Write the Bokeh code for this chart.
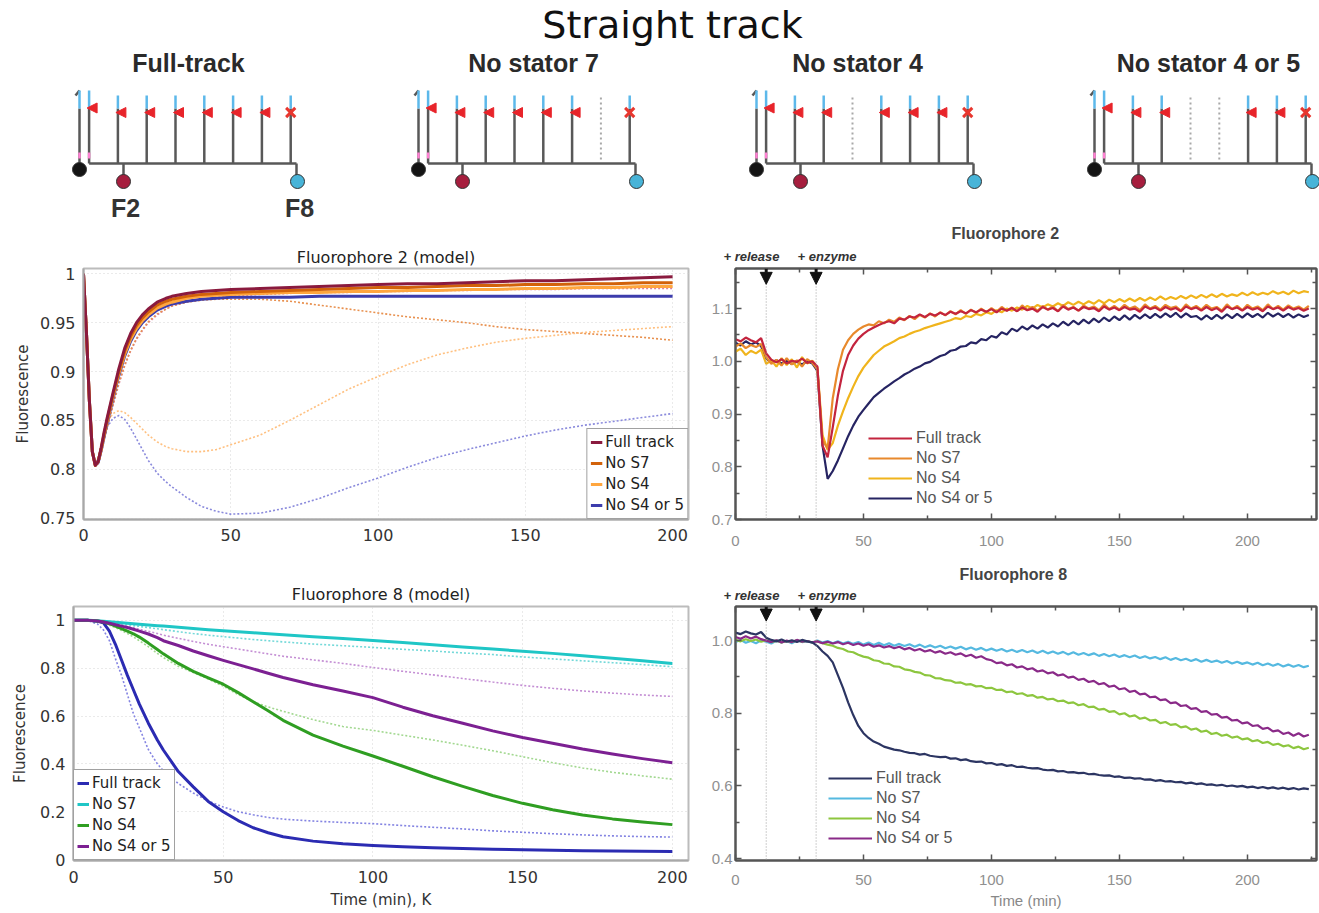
from bokeh.plotting import figure
from bokeh.layouts import column, row
from bokeh.models import (Range1d, FixedTicker, PrintfTickFormatter, Legend, LegendItem,
                          Span, Arrow, NormalHead, LinearAxis, Title, CustomJSTickFormatter)
from bokeh.core.properties import value
from bokeh.embed import file_html
from bokeh.resources import INLINE

# ------------------------------------------------------------------ data
LABELS = ["Full track", "No S7", "No S4", "No S4 or 5"]

# Fluorophore 2 (model)
M2_T = [0, 1, 2, 3, 4, 5, 6, 7, 8, 10, 12, 14, 16, 18, 20, 22, 25, 28, 30, 35, 40, 45, 50,
        60, 70, 80, 90, 100, 110, 120, 130, 140, 150, 160, 170, 180, 190, 200]
M2_FIT_FULL = [1.0, 0.94, 0.87, 0.818, 0.804, 0.808, 0.822, 0.838, 0.852, 0.878, 0.903, 0.924, 0.939,
               0.95, 0.958, 0.964, 0.971, 0.975, 0.977, 0.98, 0.982, 0.983, 0.984, 0.985, 0.986, 0.987,
               0.988, 0.989, 0.99, 0.99, 0.991, 0.992, 0.993, 0.993, 0.994, 0.995, 0.996, 0.997]
M2_FIT_S7 = [1.0, 0.94, 0.87, 0.818, 0.804, 0.808, 0.821, 0.836, 0.85, 0.876, 0.9, 0.921, 0.936,
             0.947, 0.955, 0.961, 0.968, 0.972, 0.974, 0.977, 0.979, 0.98, 0.981, 0.982, 0.983, 0.984,
             0.985, 0.986, 0.986, 0.987, 0.988, 0.988, 0.989, 0.989, 0.99, 0.99, 0.991, 0.991]
M2_FIT_S4 = [1.0, 0.94, 0.87, 0.818, 0.804, 0.808, 0.82, 0.835, 0.849, 0.874, 0.898, 0.918, 0.933,
             0.944, 0.952, 0.958, 0.965, 0.969, 0.971, 0.975, 0.977, 0.978, 0.979, 0.98, 0.981, 0.981,
             0.982, 0.982, 0.983, 0.983, 0.984, 0.984, 0.985, 0.985, 0.986, 0.986, 0.987, 0.987]
M2_FIT_S45 = [1.0, 0.94, 0.87, 0.818, 0.804, 0.807, 0.819, 0.833, 0.847, 0.872, 0.896, 0.916, 0.931,
              0.942, 0.95, 0.956, 0.963, 0.967, 0.969, 0.972, 0.974, 0.975, 0.976, 0.976, 0.976, 0.977,
              0.977, 0.977, 0.977, 0.977, 0.977, 0.977, 0.977, 0.977, 0.977, 0.977, 0.977, 0.977]
M2_DAT_FULL = [1.0, 0.935, 0.865, 0.815, 0.803, 0.806, 0.817, 0.83, 0.842, 0.865, 0.887, 0.906, 0.921,
               0.933, 0.942, 0.95, 0.958, 0.964, 0.967, 0.971, 0.974, 0.976, 0.977, 0.979, 0.98, 0.981,
               0.981, 0.982, 0.982, 0.983, 0.983, 0.984, 0.984, 0.984, 0.985, 0.985, 0.985, 0.985]
M2_DAT_S7 = [1.0, 0.935, 0.865, 0.815, 0.803, 0.806, 0.817, 0.83, 0.842, 0.866, 0.888, 0.907, 0.922,
             0.934, 0.943, 0.951, 0.959, 0.964, 0.967, 0.971, 0.973, 0.974, 0.974, 0.974, 0.972, 0.968,
             0.964, 0.96, 0.956, 0.953, 0.95, 0.946, 0.943, 0.941, 0.939, 0.937, 0.935, 0.932]
M2_DAT_S4 = [1.0, 0.935, 0.865, 0.815, 0.806, 0.812, 0.826, 0.838, 0.848, 0.857, 0.86, 0.858, 0.853,
             0.847, 0.841, 0.835, 0.828, 0.823, 0.821, 0.818, 0.818, 0.82, 0.825, 0.835, 0.85, 0.866,
             0.882, 0.895, 0.907, 0.917, 0.924, 0.93, 0.934, 0.937, 0.94, 0.942, 0.944, 0.946]
M2_DAT_S45 = [1.0, 0.935, 0.865, 0.815, 0.806, 0.811, 0.824, 0.835, 0.843, 0.852, 0.855, 0.851, 0.842,
              0.831, 0.82, 0.809, 0.796, 0.787, 0.782, 0.771, 0.762, 0.757, 0.754, 0.755, 0.761, 0.77,
              0.781, 0.791, 0.802, 0.812, 0.82, 0.827, 0.834, 0.84, 0.845, 0.849, 0.853, 0.857]

# Fluorophore 8 (model)
M8_T = [0, 5, 8, 10, 12, 14, 16, 18, 20, 22, 25, 28, 30, 35, 40, 45, 50, 55, 60, 65, 70, 80, 90,
        100, 110, 120, 130, 140, 150, 160, 170, 180, 190, 200]
M8_FIT_FULL = [1.0, 1.0, 0.996, 0.99, 0.955, 0.9, 0.835, 0.77, 0.71, 0.65, 0.57, 0.5, 0.458, 0.368,
               0.304, 0.243, 0.2, 0.163, 0.133, 0.112, 0.095, 0.077, 0.066, 0.059, 0.053, 0.049, 0.046,
               0.043, 0.041, 0.039, 0.037, 0.036, 0.035, 0.034]
M8_FIT_S7 = [1.0, 1.0, 0.998, 0.996, 0.994, 0.992, 0.99, 0.988, 0.986, 0.984, 0.981, 0.978, 0.976,
             0.971, 0.966, 0.961, 0.957, 0.952, 0.948, 0.944, 0.94, 0.932, 0.924, 0.916, 0.907, 0.898,
             0.889, 0.88, 0.871, 0.862, 0.852, 0.842, 0.831, 0.82]
M8_FIT_S4 = [1.0, 1.0, 0.997, 0.993, 0.986, 0.976, 0.966, 0.955, 0.944, 0.93, 0.905, 0.878, 0.86, 0.82,
             0.787, 0.76, 0.733, 0.698, 0.66, 0.622, 0.582, 0.52, 0.474, 0.433, 0.39, 0.346, 0.306,
             0.268, 0.235, 0.208, 0.186, 0.17, 0.157, 0.146]
M8_FIT_S45 = [1.0, 1.0, 0.997, 0.993, 0.988, 0.982, 0.976, 0.97, 0.963, 0.955, 0.943, 0.928, 0.915,
              0.895, 0.872, 0.852, 0.833, 0.815, 0.797, 0.779, 0.761, 0.731, 0.705, 0.677, 0.637, 0.601,
              0.57, 0.538, 0.51, 0.486, 0.462, 0.441, 0.422, 0.405]
M8_DAT_FULL = [1.0, 0.998, 0.985, 0.96, 0.915, 0.84, 0.772, 0.69, 0.61, 0.55, 0.46, 0.4, 0.372, 0.318,
               0.278, 0.245, 0.22, 0.2, 0.187, 0.176, 0.169, 0.161, 0.155, 0.15, 0.142, 0.135, 0.128,
               0.12, 0.114, 0.108, 0.103, 0.099, 0.096, 0.094]
M8_DAT_S7 = [1.0, 1.0, 0.997, 0.994, 0.991, 0.988, 0.985, 0.982, 0.978, 0.975, 0.97, 0.965, 0.961,
             0.953, 0.945, 0.938, 0.932, 0.926, 0.92, 0.915, 0.91, 0.901, 0.894, 0.887, 0.879, 0.872,
             0.864, 0.857, 0.847, 0.839, 0.831, 0.823, 0.815, 0.806]
M8_DAT_S4 = [1.0, 0.999, 0.994, 0.988, 0.98, 0.97, 0.958, 0.945, 0.931, 0.915, 0.89, 0.862, 0.845,
             0.808, 0.782, 0.755, 0.725, 0.69, 0.66, 0.638, 0.62, 0.585, 0.556, 0.54, 0.52, 0.5, 0.478,
             0.455, 0.43, 0.405, 0.383, 0.365, 0.35, 0.336]
M8_DAT_S45 = [1.0, 1.0, 0.997, 0.994, 0.99, 0.985, 0.98, 0.975, 0.969, 0.963, 0.954, 0.945, 0.938,
              0.925, 0.912, 0.9, 0.89, 0.88, 0.87, 0.86, 0.85, 0.835, 0.82, 0.803, 0.787, 0.772, 0.757,
              0.742, 0.728, 0.716, 0.705, 0.696, 0.688, 0.682]

# Experiments, sampled every 2 min from 0 to 224 min
EXP_T = list(range(0, 225, 2))
RELEASE_T = 12
ENZYME_T = 31.5

F2_FULL = [1.042, 1.038, 1.045, 1.040, 1.036, 1.044, 1.015, 1.003, 0.998, 1.004,
           0.996, 1.001, 0.999, 1.005, 0.997, 1.000, 0.990, 0.840, 0.818, 0.875,
           0.935, 0.982, 1.012, 1.030, 1.043, 1.052, 1.059, 1.064, 1.069, 1.073,
           1.076, 1.072, 1.081, 1.079, 1.085, 1.083, 1.089, 1.084, 1.090, 1.087,
           1.092, 1.088, 1.094, 1.090, 1.095, 1.091, 1.097, 1.093, 1.098, 1.094,
           1.099, 1.093, 1.100, 1.096, 1.101, 1.095, 1.102, 1.097, 1.100, 1.094,
           1.103, 1.098, 1.101, 1.095, 1.104, 1.098, 1.102, 1.096, 1.103, 1.099,
           1.101, 1.095, 1.104, 1.098, 1.102, 1.097, 1.103, 1.098, 1.100, 1.094,
           1.104, 1.099, 1.102, 1.096, 1.103, 1.098, 1.101, 1.095, 1.104, 1.099,
           1.102, 1.096, 1.103, 1.097, 1.101, 1.094, 1.104, 1.099, 1.102, 1.096,
           1.103, 1.098, 1.101, 1.095, 1.104, 1.099, 1.102, 1.096, 1.103, 1.098,
           1.101, 1.096, 1.100]
F2_S7 = [1.028, 1.034, 1.025, 1.031, 1.027, 1.033, 1.008, 0.995, 1.003, 0.992,
         1.006, 0.994, 1.002, 0.990, 1.004, 0.997, 0.985, 0.850, 0.835, 0.930,
         0.985, 1.022, 1.040, 1.052, 1.060, 1.066, 1.070, 1.068, 1.076, 1.072,
         1.079, 1.075, 1.083, 1.078, 1.086, 1.080, 1.088, 1.083, 1.091, 1.085,
         1.093, 1.087, 1.095, 1.089, 1.097, 1.090, 1.098, 1.092, 1.100, 1.093,
         1.101, 1.094, 1.103, 1.096, 1.102, 1.095, 1.106, 1.097, 1.103, 1.096,
         1.105, 1.098, 1.104, 1.095, 1.107, 1.099, 1.103, 1.096, 1.106, 1.100,
         1.104, 1.097, 1.108, 1.099, 1.105, 1.098, 1.107, 1.100, 1.104, 1.097,
         1.108, 1.100, 1.105, 1.098, 1.107, 1.101, 1.104, 1.096, 1.108, 1.100,
         1.105, 1.098, 1.107, 1.100, 1.103, 1.096, 1.108, 1.099, 1.105, 1.097,
         1.107, 1.100, 1.104, 1.097, 1.108, 1.099, 1.105, 1.098, 1.106, 1.100,
         1.104, 1.098, 1.105]
F2_S4 = [1.018, 1.024, 1.012, 1.020, 1.015, 1.022, 0.995, 1.002, 0.990, 1.006,
         0.993, 1.004, 0.988, 1.008, 0.996, 1.001, 0.988, 0.860, 0.832, 0.845,
         0.878, 0.905, 0.930, 0.952, 0.972, 0.988, 1.000, 1.012, 1.020, 1.028,
         1.033, 1.038, 1.044, 1.047, 1.052, 1.056, 1.059, 1.063, 1.066, 1.069,
         1.072, 1.075, 1.078, 1.082, 1.080, 1.086, 1.084, 1.090, 1.087, 1.093,
         1.090, 1.097, 1.093, 1.100, 1.096, 1.102, 1.098, 1.105, 1.100, 1.107,
         1.102, 1.108, 1.104, 1.110, 1.105, 1.112, 1.107, 1.113, 1.108, 1.114,
         1.109, 1.116, 1.110, 1.117, 1.112, 1.118, 1.113, 1.119, 1.114, 1.120,
         1.115, 1.121, 1.116, 1.123, 1.117, 1.122, 1.118, 1.124, 1.119, 1.125,
         1.120, 1.126, 1.121, 1.127, 1.122, 1.128, 1.123, 1.127, 1.124, 1.130,
         1.125, 1.131, 1.126, 1.130, 1.127, 1.133, 1.128, 1.132, 1.127, 1.134,
         1.129, 1.133, 1.131]
F2_S45 = [1.035, 1.030, 1.038, 1.032, 1.036, 1.029, 1.005, 0.998, 1.002, 0.996,
          1.001, 0.995, 0.999, 0.994, 1.000, 0.996, 0.982, 0.840, 0.777, 0.792,
          0.812, 0.835, 0.858, 0.878, 0.895, 0.908, 0.920, 0.932, 0.940, 0.948,
          0.955, 0.962, 0.968, 0.975, 0.980, 0.986, 0.990, 0.996, 0.999, 1.005,
          1.010, 1.013, 1.020, 1.022, 1.028, 1.029, 1.036, 1.034, 1.042, 1.040,
          1.048, 1.045, 1.055, 1.051, 1.062, 1.057, 1.066, 1.060, 1.068, 1.062,
          1.070, 1.064, 1.072, 1.066, 1.075, 1.068, 1.077, 1.070, 1.079, 1.072,
          1.081, 1.074, 1.083, 1.076, 1.085, 1.078, 1.087, 1.079, 1.088, 1.081,
          1.089, 1.082, 1.090, 1.083, 1.091, 1.084, 1.092, 1.083, 1.091, 1.084,
          1.086, 1.079, 1.087, 1.080, 1.088, 1.081, 1.089, 1.082, 1.090, 1.083,
          1.091, 1.084, 1.090, 1.083, 1.092, 1.085, 1.091, 1.084, 1.090, 1.083,
          1.089, 1.084, 1.088]

F8_FULL = [1.022, 1.018, 1.025, 1.020, 1.017, 1.024, 1.008, 1.002, 0.998, 1.003,
           0.997, 1.001, 0.996, 1.002, 0.998, 0.995, 0.985, 0.970, 0.958, 0.940,
           0.905, 0.870, 0.830, 0.795, 0.765, 0.745, 0.732, 0.722, 0.716, 0.708,
           0.704, 0.700, 0.698, 0.694, 0.691, 0.690, 0.686, 0.688, 0.683, 0.681,
           0.679, 0.680, 0.675, 0.676, 0.671, 0.673, 0.668, 0.666, 0.667, 0.662,
           0.663, 0.658, 0.660, 0.655, 0.657, 0.652, 0.653, 0.650, 0.648, 0.649,
           0.645, 0.643, 0.644, 0.640, 0.641, 0.637, 0.638, 0.635, 0.636, 0.632,
           0.633, 0.630, 0.628, 0.629, 0.625, 0.626, 0.622, 0.623, 0.620, 0.621,
           0.617, 0.618, 0.614, 0.616, 0.612, 0.613, 0.610, 0.611, 0.607, 0.609,
           0.605, 0.607, 0.603, 0.604, 0.601, 0.603, 0.599, 0.601, 0.598, 0.600,
           0.596, 0.598, 0.594, 0.597, 0.593, 0.596, 0.592, 0.595, 0.591, 0.594,
           0.590, 0.593, 0.591]
F8_S7 = [0.996, 1.002, 0.994, 0.999, 0.993, 1.001, 0.997, 0.992, 1.000, 0.995,
         0.999, 0.993, 1.001, 0.996, 0.998, 0.994, 1.000, 0.995, 0.999, 0.993,
         0.998, 0.992, 0.997, 0.991, 0.996, 0.989, 0.995, 0.988, 0.994, 0.987,
         0.993, 0.986, 0.991, 0.985, 0.990, 0.983, 0.989, 0.982, 0.987, 0.981,
         0.986, 0.979, 0.984, 0.978, 0.983, 0.976, 0.981, 0.975, 0.980, 0.973,
         0.978, 0.972, 0.977, 0.970, 0.975, 0.969, 0.974, 0.968, 0.973, 0.966,
         0.972, 0.965, 0.970, 0.964, 0.969, 0.962, 0.968, 0.961, 0.966, 0.960,
         0.965, 0.958, 0.963, 0.957, 0.962, 0.955, 0.960, 0.954, 0.959, 0.952,
         0.957, 0.951, 0.955, 0.949, 0.954, 0.947, 0.952, 0.946, 0.950, 0.944,
         0.949, 0.942, 0.947, 0.941, 0.945, 0.939, 0.944, 0.937, 0.942, 0.936,
         0.940, 0.934, 0.939, 0.932, 0.937, 0.931, 0.936, 0.929, 0.934, 0.928,
         0.933, 0.927, 0.931]
F8_S4 = [1.002, 0.998, 1.004, 0.999, 1.003, 0.997, 1.001, 0.996, 1.000, 0.995,
         0.999, 0.996, 1.001, 0.997, 0.999, 0.995, 0.998, 0.993, 0.989, 0.986,
         0.980, 0.977, 0.970, 0.968, 0.961, 0.956, 0.953, 0.946, 0.944, 0.937,
         0.936, 0.929, 0.928, 0.921, 0.919, 0.914, 0.912, 0.905, 0.904, 0.897,
         0.896, 0.891, 0.890, 0.884, 0.885, 0.879, 0.880, 0.874, 0.875, 0.869,
         0.870, 0.864, 0.865, 0.858, 0.860, 0.853, 0.855, 0.848, 0.850, 0.843,
         0.845, 0.838, 0.840, 0.833, 0.835, 0.828, 0.830, 0.822, 0.825, 0.817,
         0.818, 0.810, 0.812, 0.804, 0.806, 0.797, 0.800, 0.791, 0.794, 0.785,
         0.788, 0.780, 0.782, 0.773, 0.776, 0.768, 0.770, 0.761, 0.764, 0.755,
         0.758, 0.749, 0.752, 0.743, 0.746, 0.738, 0.741, 0.733, 0.736, 0.728,
         0.731, 0.723, 0.726, 0.718, 0.721, 0.713, 0.716, 0.709, 0.712, 0.704,
         0.708, 0.701, 0.705]
F8_S45 = [1.010, 1.005, 1.012, 1.006, 1.011, 1.004, 1.000, 0.996, 1.001, 0.995,
          1.000, 0.996, 1.002, 0.997, 0.999, 0.995, 0.998, 0.993, 0.997, 0.992,
          0.996, 0.990, 0.994, 0.988, 0.992, 0.986, 0.990, 0.983, 0.987, 0.981,
          0.985, 0.979, 0.983, 0.976, 0.980, 0.973, 0.977, 0.970, 0.974, 0.967,
          0.971, 0.964, 0.968, 0.961, 0.965, 0.957, 0.961, 0.953, 0.957, 0.949,
          0.946, 0.938, 0.940, 0.932, 0.935, 0.926, 0.929, 0.921, 0.924, 0.915,
          0.918, 0.910, 0.913, 0.904, 0.907, 0.898, 0.901, 0.892, 0.895, 0.886,
          0.889, 0.880, 0.883, 0.873, 0.876, 0.866, 0.869, 0.859, 0.862, 0.852,
          0.854, 0.844, 0.846, 0.836, 0.838, 0.828, 0.830, 0.820, 0.822, 0.812,
          0.814, 0.804, 0.806, 0.796, 0.798, 0.788, 0.790, 0.780, 0.782, 0.772,
          0.775, 0.765, 0.767, 0.757, 0.760, 0.750, 0.753, 0.743, 0.747, 0.738,
          0.745, 0.736, 0.741]

# Schematics
SCHEME_TITLES = ["Full-track", "No stator 7", "No stator 4", "No stator 4 or 5"]
SCHEME_MISSING = [[], [7], [4], [4, 5]]
STATORS = [1, 2, 3, 4, 5, 6, 7, 8]
EVENTS_TEXT = "+ release\u00a0\u00a0\u00a0\u00a0\u00a0+ enzyme"

# ------------------------------------------------------------------ styles
FL = "DejaVu Sans"
FR = "Liberation Sans"

C2_FIT = ["#8a1a3e", "#d2620a", "#ffa63e", "#3c3cac"]
C2_DAT = ["#d9809e", "#e8904e", "#ffc080", "#8a8adc"]
C8_FIT = ["#2b2bb2", "#1fc6c6", "#2f9e22", "#7c2092"]
C8_DAT = ["#8484e2", "#74d9d9", "#a2d890", "#c48ed4"]
CE2 = ["#c3243e", "#e8892c", "#f0b41c", "#262462"]
CE8 = ["#2c3562", "#55b9e0", "#8dc63f", "#8a2a88"]


def trim(x, y):
    n = min(len(x), len(y))
    return x[:n], y[:n]


def base_fig(w, h, xr, yr, l, r, t, b):
    return figure(width=w, height=h, x_range=Range1d(*xr), y_range=Range1d(*yr),
                  output_backend="svg", toolbar_location=None,
                  min_border_left=l, min_border_right=r, min_border_top=t, min_border_bottom=b)


def model_fig(w, h, yr, borders, yticks, title, title_standoff, ylab_standoff, x_standoff):
    p = base_fig(w, h, (0, 205.4), yr, *borders)
    p.title.text = title
    p.title.align = "center"
    p.title.text_font = FL
    p.title.text_font_size = "16px"
    p.title.text_font_style = "normal"
    p.title.text_color = "#222222"
    p.title.standoff = title_standoff
    xa, ya = p.below[0], p.left[0]
    xa.ticker = FixedTicker(ticks=[0, 50, 100, 150, 200])
    ya.ticker = FixedTicker(ticks=yticks)
    ya.formatter = PrintfTickFormatter(format="%g")
    for ax in (xa, ya):
        ax.axis_line_color = "#a8a8a8"
        ax.axis_line_width = 2
        ax.major_tick_in = 0
        ax.major_tick_out = 0
        ax.minor_tick_in = 0
        ax.minor_tick_out = 0
        ax.major_label_text_font = FL
        ax.major_label_text_font_size = "16px"
        ax.major_label_text_color = "#333333"
        ax.major_label_standoff = 8
    xa.major_label_standoff = x_standoff
    ya.axis_label = "Fluorescence"
    ya.axis_label_text_font = FL
    ya.axis_label_text_font_size = "15px"
    ya.axis_label_text_font_style = "normal"
    ya.axis_label_text_color = "#333333"
    ya.axis_label_standoff = ylab_standoff
    p.outline_line_color = "#bcbcbc"
    p.outline_line_width = 2
    for g in (p.xgrid[0], p.ygrid[0]):
        g.grid_line_color = "#d4d4d4"
        g.grid_line_dash = "1 3"
        g.grid_line_width = 1
    return p, xa


def model_legend(p, renderers, loc):
    items = [LegendItem(label=lab, renderers=[r]) for lab, r in zip(LABELS, renderers)]
    lg = Legend(items=items, location=loc, margin=0, padding=3, spacing=1,
                glyph_width=12, glyph_height=20, label_height=20, label_standoff=3,
                label_text_font=FL, label_text_font_size="15px", label_text_color="#222222",
                border_line_color="#444444", border_line_width=1,
                background_fill_color="white", background_fill_alpha=1)
    p.add_layout(lg)


def exp_fig(w, h, yr, borders, yticks, yminor, title, t_offset, ev_standoff, t_standoff, x_standoff):
    p = base_fig(w, h, (0, 227), yr, *borders)
    p.title.text = title
    p.title.align = "left"
    p.title.offset = t_offset
    p.title.text_font = FR
    p.title.text_font_size = "16px"
    p.title.text_font_style = "bold"
    p.title.text_color = "#444444"
    p.title.standoff = t_standoff
    xa, ya = p.below[0], p.left[0]
    xt = FixedTicker(ticks=[0, 50, 100, 150, 200], minor_ticks=[25, 75, 125, 175, 225])
    yt = FixedTicker(ticks=yticks, minor_ticks=yminor)
    xa.ticker = xt
    ya.ticker = yt
    ya.formatter = PrintfTickFormatter(format="%.1f")
    blank = CustomJSTickFormatter(code="return ''")
    top = LinearAxis(ticker=xt, formatter=blank)
    right = LinearAxis(ticker=yt, formatter=blank)
    p.add_layout(top, "above")
    p.add_layout(Title(text=EVENTS_TEXT, align="left", offset=-12, standoff=ev_standoff,
                       text_font=FR, text_font_size="13px", text_font_style="bold italic",
                       text_color="#333333"), "above")
    p.add_layout(right, "right")
    for ax in (xa, ya, top, right):
        ax.axis_line_color = "#555555"
        ax.axis_line_width = 2
        ax.major_tick_in = 6
        ax.major_tick_out = 0
        ax.minor_tick_in = 4
        ax.minor_tick_out = 0
        ax.major_tick_line_color = "#555555"
        ax.minor_tick_line_color = "#555555"
        ax.major_tick_line_width = 1.5
        ax.minor_tick_line_width = 1.5
        ax.major_label_text_font = FR
        ax.major_label_text_font_size = "15px"
        ax.major_label_text_color = "#909090"
    xa.major_label_standoff = x_standoff
    ya.major_label_standoff = 3
    top.major_label_standoff = 0
    right.major_label_standoff = 0
    p.grid.visible = False
    p.outline_line_color = "#555555"
    p.outline_line_width = 2
    return p, xa


def exp_marks(p, ytop, dy):
    for t in (RELEASE_T, ENZYME_T):
        p.add_layout(Span(location=t, dimension="height", line_color="#a0a0a0",
                          line_dash="1 2", line_width=1))
        p.add_layout(Arrow(end=NormalHead(size=12, fill_color="#111111", line_color="#111111"),
                           x_start=t, y_start=ytop, x_end=t, y_end=ytop - dy,
                           line_color="#111111", line_width=3))


def exp_legend(p, renderers, loc):
    items = [LegendItem(label=lab, renderers=[r]) for lab, r in zip(LABELS, renderers)]
    lg = Legend(items=items, location=loc, margin=0, padding=0, spacing=0,
                glyph_width=44, glyph_height=20, label_height=20, label_standoff=4,
                label_text_font=FR, label_text_font_size="16px", label_text_color="#555555",
                border_line_color=None, background_fill_alpha=0)
    p.add_layout(lg)


# ------------------------------------------------------------------ header
HDR_H = 222
hdr = figure(width=1319, height=HDR_H, x_range=Range1d(0, 1319), y_range=Range1d(HDR_H, 0),
             output_backend="svg", toolbar_location=None, min_border=0)
hdr.axis.visible = False
hdr.grid.visible = False
hdr.outline_line_color = None
hdr.text(x=[672], y=[24], text=["Straight track"], text_font=value(FL), text_font_size="38px",
         text_align="center", text_baseline="middle", text_color="#111111")

X0 = [79, 418, 756, 1094]
TITLE_X = [188, 533, 857, 1208]
hdr.text(x=TITLE_X, y=[62] * 4, text=SCHEME_TITLES, text_font=value(FR), text_font_size="25px",
         text_font_style="bold", text_align="center", text_baseline="middle", text_color="#2a2a2a")

gx0, gy0, gx1, gy1 = [], [], [], []
bx0, by0, bx1, by1 = [], [], [], []
px0, py0, px1, py1 = [], [], [], []
dx0, dy0, dx1, dy1 = [], [], [], []
fxs, fys, xx, xy = [], [], [], []
circ_x, circ_y, circ_c = [], [], []
for x0, missing in zip(X0, SCHEME_MISSING):
    gx0 += [x0, x0 - 4]; gy0 += [108, 95]; gx1 += [x0, x0]; gy1 += [163, 90]
    bx0.append(x0); by0.append(90); bx1.append(x0); by1.append(108)
    px0.append(x0); py0.append(152); px1.append(x0); py1.append(158)
    for k in STATORS:
        sx = x0 + 9.6 + (k - 1) * 28.8
        if k in missing:
            dx0.append(sx); dy0.append(97); dx1.append(sx); dy1.append(160)
            continue
        top = 90 if k == 1 else 95
        gx0.append(sx); gy0.append(108); gx1.append(sx); gy1.append(163)
        bx0.append(sx); by0.append(top); bx1.append(sx); by1.append(108)
        if k == 1:
            px0.append(sx); py0.append(152); px1.append(sx); py1.append(158)
        if k == 8:
            xx.append(sx); xy.append(112)
        else:
            fy = 107.5 if k == 1 else 112
            fxs.append([sx - 2, sx + 8, sx + 8]); fys.append([fy, fy - 5, fy + 5])
    gx0 += [x0 + 9.6, x0 + 44, x0 + 217]; gy0 += [163, 163, 163]
    gx1 += [x0 + 217, x0 + 44, x0 + 217]; gy1 += [163, 175, 175]
    circ_x += [x0, x0 + 44, x0 + 218]; circ_y += [169, 181, 181]
    circ_c += ["#141414", "#a61e3e", "#48b4d8"]

hdr.segment(gx0, gy0, gx1, gy1, line_color="#585858", line_width=2.5)
hdr.segment(dx0, dy0, dx1, dy1, line_color="#a8a8a8", line_width=2, line_dash="2 3")
hdr.segment(bx0, by0, bx1, by1, line_color="#5cb8ea", line_width=2.5)
hdr.segment(px0, py0, px1, py1, line_color="#ff80d2", line_width=2.5)
hdr.patches(fxs, fys, fill_color="#e8242a", line_color="#e8242a", line_width=1)
hdr.scatter(xx, xy, marker="x", size=13, line_color="#e8362e", line_width=3)
hdr.scatter(circ_x, circ_y, marker="circle", size=14, fill_color=circ_c, line_color="#333333",
            line_width=1)
hdr.text(x=[X0[0] + 46, X0[0] + 220], y=[207, 207], text=["F2", "F8"], text_font=value(FR),
         text_font_size="25px", text_font_style="bold", text_align="center",
         text_baseline="middle", text_color="#333333")

# ------------------------------------------------------------------ F2 model
ROW1_H = 560 - HDR_H
tl, _ = model_fig(700, ROW1_H, (0.7485, 1.0055), (83, 12, 268 - HDR_H, 41),
                  [0.75, 0.8, 0.85, 0.9, 0.95, 1], "Fluorophore 2 (model)", 4, 5, 9)
for y, c in zip([M2_DAT_FULL, M2_DAT_S7, M2_DAT_S4, M2_DAT_S45], C2_DAT):
    tl.line(*trim(M2_T, y), line_color=c, line_width=1.6, line_dash="2 2")
fits2 = [M2_FIT_FULL, M2_FIT_S7, M2_FIT_S4, M2_FIT_S45]
rs = [None] * 4
for i in (3, 2, 1, 0):
    rs[i] = tl.line(*trim(M2_T, fits2[i]), line_color=C2_FIT[i], line_width=3, line_join="round")
model_legend(tl, rs, "bottom_right")

# ------------------------------------------------------------------ F2 experiment
tr, _ = exp_fig(619, ROW1_H, (0.7, 1.176), (35, 3, 268 - HDR_H, 40), [0.7, 0.8, 0.9, 1.0, 1.1],
                [0.75, 0.85, 0.95, 1.05, 1.15], "Fluorophore 2", 216, 9, 1, 16)
exp_marks(tr, 1.176, 0.03)
ser2 = [F2_FULL, F2_S7, F2_S4, F2_S45]
rs = [None] * 4
for i in (3, 2, 1, 0):
    rs[i] = tr.line(*trim(EXP_T, ser2[i]), line_color=CE2[i], line_width=2.2)
exp_legend(tr, rs, (133, 11))

# ------------------------------------------------------------------ F8 model
bl, blx = model_fig(700, 353, (-0.004, 1.058), (73, 12, 46, 53),
                    [0, 0.2, 0.4, 0.6, 0.8, 1], "Fluorophore 8 (model)", 6, 8, 10)
blx.axis_label = "Time (min), K"
blx.axis_label_text_font = FL
blx.axis_label_text_font_size = "15px"
blx.axis_label_text_font_style = "normal"
blx.axis_label_text_color = "#333333"
blx.axis_label_standoff = 5
for y, c in zip([M8_DAT_FULL, M8_DAT_S7, M8_DAT_S4, M8_DAT_S45], C8_DAT):
    bl.line(*trim(M8_T, y), line_color=c, line_width=1.6, line_dash="2 2")
fits8 = [M8_FIT_FULL, M8_FIT_S7, M8_FIT_S4, M8_FIT_S45]
rs = [None] * 4
for i in range(4):
    rs[i] = bl.line(*trim(M8_T, fits8[i]), line_color=C8_FIT[i], line_width=3, line_join="round")
model_legend(bl, rs, "bottom_left")

# ------------------------------------------------------------------ F8 experiment
br, brx = exp_fig(619, 353, (0.3945, 1.094), (35, 3, 46, 53), [0.4, 0.6, 0.8, 1.0],
                  [0.5, 0.7, 0.9], "Fluorophore 8", 224, 7, 0, 14)
brx.axis_label = "Time (min)"
brx.axis_label_text_font = FR
brx.axis_label_text_font_size = "15px"
brx.axis_label_text_font_style = "normal"
brx.axis_label_text_color = "#888888"
brx.axis_label_standoff = 4
exp_marks(br, 1.094, 0.04)
ser8 = [F8_FULL, F8_S7, F8_S4, F8_S45]
rs = [None] * 4
for i in (1, 2, 3, 0):
    rs[i] = br.line(*trim(EXP_T, ser8[i]), line_color=CE8[i], line_width=2.2)
exp_legend(br, rs, (93, 12))

layout = column(hdr, row(tl, tr), row(bl, br))
open("out.html", "w").write(file_html(layout, INLINE))
